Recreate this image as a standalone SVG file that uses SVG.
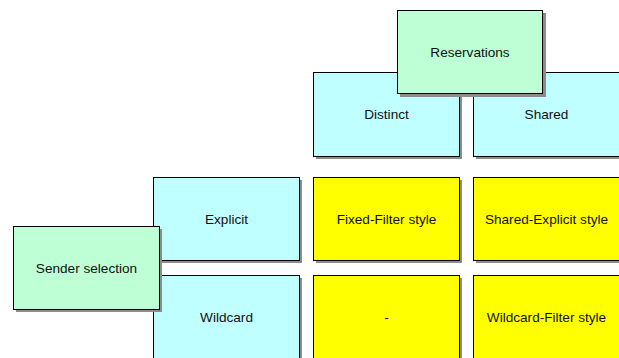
<svg xmlns="http://www.w3.org/2000/svg" width="619" height="358" viewBox="0 0 619 358">
  <style>
    .shadow { fill: #8c8c8c; }
    .box { stroke: #000; stroke-width: 1; }
    .cyan { fill: #bfffff; }
    .green { fill: #bfffd6; }
    .yellow { fill: #ffff00; }
    text { font-family: "Liberation Sans", Arial, sans-serif; font-size: 13.6px; fill: #111; text-anchor: middle; dominant-baseline: central; }
  </style>
  <rect width="619" height="358" fill="#fff"/>
  <g id="connectors"/>

  <!-- column headers -->
  <g id="distinct">
    <rect class="shadow" x="316" y="75" width="146" height="84"/>
    <rect class="box cyan" x="313.5" y="72.5" width="146" height="84"/>
    <text x="386.5" y="114.5">Distinct</text>
  </g>
  <g id="shared">
    <rect class="shadow" x="476" y="75" width="146" height="84"/>
    <rect class="box cyan" x="473.5" y="72.5" width="148" height="84"/>
    <text x="546.5" y="114.5">Shared</text>
  </g>
  <g id="reservations">
    <rect class="shadow" x="400" y="13" width="146" height="84"/>
    <rect class="box green" x="397.5" y="10.5" width="145" height="83"/>
    <text x="470" y="52">Reservations</text>
  </g>

  <!-- row headers -->
  <g id="explicit">
    <rect class="shadow" x="156" y="180" width="146" height="83"/>
    <rect class="box cyan" x="153.5" y="177.5" width="146" height="83"/>
    <text x="226.5" y="219">Explicit</text>
  </g>
  <g id="wildcard">
    <rect class="shadow" x="156" y="278" width="146" height="83"/>
    <rect class="box cyan" x="153.5" y="275.5" width="146" height="83"/>
    <text x="226.5" y="317">Wildcard</text>
  </g>
  <g id="sender-selection">
    <rect class="shadow" x="16" y="229" width="146" height="83"/>
    <rect class="box green" x="13.5" y="226.5" width="146" height="83"/>
    <text x="86.5" y="268">Sender selection</text>
  </g>

  <!-- cells -->
  <g id="fixed-filter">
    <rect class="shadow" x="316" y="180" width="146" height="83"/>
    <rect class="box yellow" x="313.5" y="177.5" width="146" height="83"/>
    <text x="386.5" y="219">Fixed-Filter style</text>
  </g>
  <g id="shared-explicit">
    <rect class="shadow" x="476" y="180" width="146" height="83"/>
    <rect class="box yellow" x="473.5" y="177.5" width="148" height="83"/>
    <text x="546.5" y="219">Shared-Explicit style</text>
  </g>
  <g id="none-cell">
    <rect class="shadow" x="316" y="278" width="146" height="83"/>
    <rect class="box yellow" x="313.5" y="275.5" width="146" height="83"/>
    <text x="386.5" y="317">-</text>
  </g>
  <g id="wildcard-filter">
    <rect class="shadow" x="476" y="278" width="146" height="83"/>
    <rect class="box yellow" x="473.5" y="275.5" width="148" height="83"/>
    <text x="546.5" y="317">Wildcard-Filter style</text>
  </g>
</svg>
